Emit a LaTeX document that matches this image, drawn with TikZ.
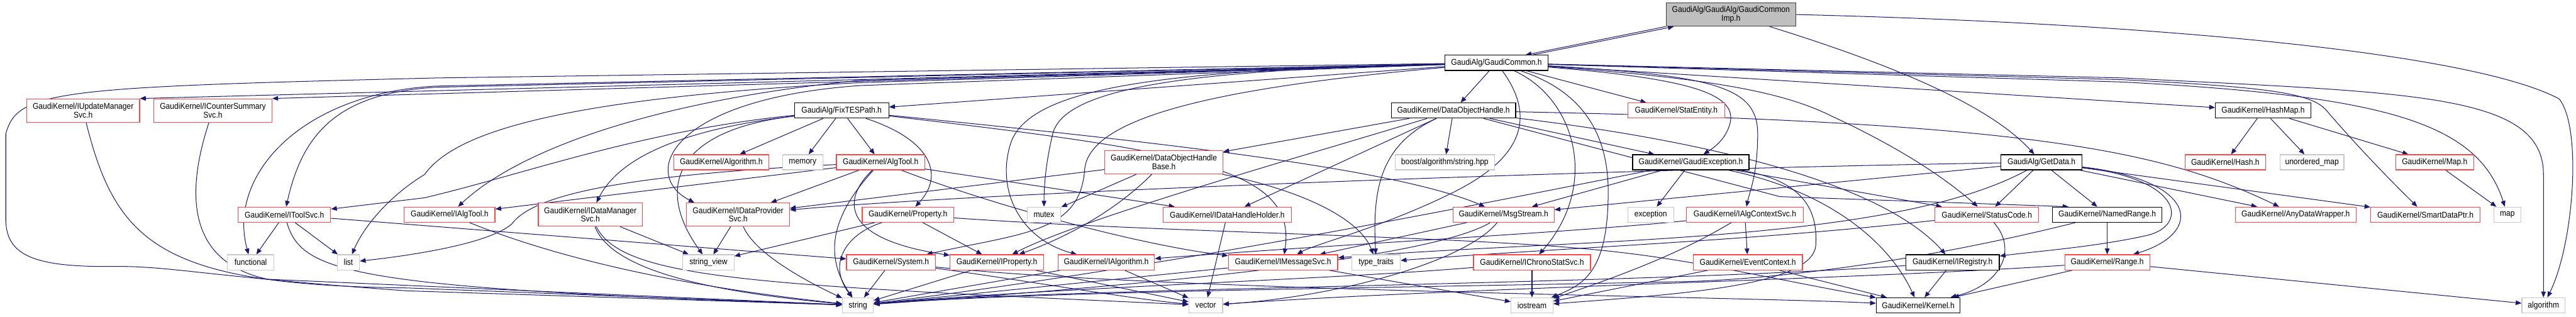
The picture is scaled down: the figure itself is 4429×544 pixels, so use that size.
\documentclass[tikz,border=0pt]{standalone}
\usepackage{fontspec}
\setmainfont{Liberation Sans}[FakeStretch=0.9]
\usetikzlibrary{arrows.meta}
\definecolor{edgec}{RGB}{25,25,112}
\definecolor{redb}{RGB}{255,70,70}
\definecolor{grayb}{RGB}{200,200,200}
\definecolor{impf}{RGB}{191,191,191}
\pgfdeclarelayer{bg}
\pgfsetlayers{bg,main}
\begin{document}
\begin{tikzpicture}[x=1pt,y=-1pt,
  nd/.style={draw, fill=white, line width=1.3pt, inner sep=0pt, align=center, font=\fontsize{14.5}{15}\selectfont, minimum height=26pt},
  rb/.style={nd, draw=redb},
  bb/.style={nd, draw=black},
  gb/.style={nd, draw=grayb},
  ib/.style={nd, draw=black!75, fill=impf, minimum height=40pt},
  tall/.style={minimum height=40pt},
  e/.style={draw=edgec, line width=1.1pt, -{Triangle[length=10pt,width=8pt]}},
]
\useasboundingbox (0,0) rectangle (4429,544);
% row 0-1
\node[ib,minimum width=223] (imp) at (2976,25) {GaudiAlg/GaudiAlg/GaudiCommon\\Imp.h};
\node[bb,minimum width=177] (gc) at (2573,108) {GaudiAlg/GaudiCommon.h};
% row 2
\node[rb,minimum width=194,tall] (ium) at (143,190) {GaudiKernel/IUpdateManager\\Svc.h};
\node[rb,minimum width=203,tall] (ics) at (366,190) {GaudiKernel/ICounterSummary\\Svc.h};
\node[bb,minimum width=162] (fix) at (1447,190) {GaudiAlg/FixTESPath.h};
\node[bb,minimum width=214] (doh) at (2499,190) {GaudiKernel/DataObjectHandle.h};
\node[rb,minimum width=167] (stat) at (2882,190) {GaudiKernel/StatEntity.h};
\node[bb,minimum width=164] (hmap) at (3891,190) {GaudiKernel/HashMap.h};
% row 3
\node[rb,minimum width=163] (alg) at (1240,279) {GaudiKernel/Algorithm.h};
\node[gb,minimum width=69] (mem) at (1380,279) {memory};
\node[rb,minimum width=152] (algtool) at (1514,279) {GaudiKernel/AlgTool.h};
\node[rb,minimum width=203,tall] (dohb) at (2001,279) {GaudiKernel/DataObjectHandle\\Base.h};
\node[gb,minimum width=171] (boost) at (2484,279) {boost/algorithm/string.hpp};
\node[bb,minimum width=200] (gexc) at (2907,279) {GaudiKernel/GaudiException.h};
\node[bb,minimum width=139] (getd) at (3510,279) {GaudiAlg/GetData.h};
\node[rb,minimum width=138] (hash) at (3826,279) {GaudiKernel/Hash.h};
\node[gb,minimum width=110] (umap) at (3975,279) {unordered\_map};
\node[rb,minimum width=134] (mapk) at (4186,279) {GaudiKernel/Map.h};
% row 4
\node[rb,minimum width=159] (itool) at (489,369) {GaudiKernel/IToolSvc.h};
\node[rb,minimum width=156] (ialgtool) at (773,369) {GaudiKernel/IAlgTool.h};
\node[rb,minimum width=179,tall] (idms) at (1015,369) {GaudiKernel/IDataManager\\Svc.h};
\node[rb,minimum width=177,tall] (idps) at (1269,369) {GaudiKernel/IDataProvider\\Svc.h};
\node[rb,minimum width=157] (prop) at (1561,369) {GaudiKernel/Property.h};
\node[gb,minimum width=58] (mutex) at (1795,369) {mutex};
\node[rb,minimum width=220] (idhh) at (2110,369) {GaudiKernel/IDataHandleHolder.h};
\node[rb,minimum width=174] (msg) at (2585,369) {GaudiKernel/MsgStream.h};
\node[gb,minimum width=79] (exc) at (2838,369) {exception};
\node[rb,minimum width=201] (iacs) at (3000,369) {GaudiKernel/IAlgContextSvc.h};
\node[rb,minimum width=178] (sc) at (3416,369) {GaudiKernel/StatusCode.h};
\node[bb,minimum width=188] (nr) at (3623,369) {GaudiKernel/NamedRange.h};
\node[rb,minimum width=208] (adw) at (3947,369) {GaudiKernel/AnyDataWrapper.h};
\node[rb,minimum width=188] (sdp) at (4170,369) {GaudiKernel/SmartDataPtr.h};
\node[gb,minimum width=47] (map) at (4311,369) {map};
% row 5
\node[gb,minimum width=80] (func) at (431,451) {functional};
\node[gb,minimum width=38] (list) at (599,451) {list};
\node[gb,minimum width=88] (sv) at (1218,451) {string\_view};
\node[rb,minimum width=153] (sys) at (1532,451) {GaudiKernel/System.h};
\node[rb,minimum width=161] (iprop) at (1714,451) {GaudiKernel/IProperty.h};
\node[rb,minimum width=166] (ialg) at (1902,451) {GaudiKernel/IAlgorithm.h};
\node[rb,minimum width=188] (ims) at (2206,451) {GaudiKernel/IMessageSvc.h};
\node[gb,minimum width=83] (tt) at (2366,451) {type\_traits};
\node[rb,minimum width=201] (icss) at (2634,451) {GaudiKernel/IChronoStatSvc.h};
\node[rb,minimum width=188] (ec) at (3005,451) {GaudiKernel/EventContext.h};
\node[bb,minimum width=161] (ireg) at (3357,451) {GaudiKernel/IRegistry.h};
\node[rb,minimum width=146] (range) at (3623,451) {GaudiKernel/Range.h};
% row 6
\node[gb,minimum width=53] (str) at (1475,525) {string};
\node[gb,minimum width=58] (vec) at (2073,525) {vector};
\node[gb,minimum width=72] (ios) at (2634,525) {iostream};
\node[bb,minimum width=144] (kern) at (3298,525) {GaudiKernel/Kernel.h};
\node[gb,minimum width=74] (algo) at (4373,525) {algorithm};

\begin{pgfonlayer}{bg}
% Imp
\draw[e] (imp.south west) -- ([xshift=50]gc.north);
\draw[e] ([xshift=62]gc.north) -- ([xshift=14]imp.south west);
\draw[e] (imp) .. controls (3250,110) and (3420,180) .. (getd);
\draw[e] (imp.east) .. controls (3700,40) and (4250,90) .. (4400,170) .. controls (4440,220) and (4425,420) .. (algo);
% GaudiCommon left
\draw[e] (gc) -- (ium.north east);
\draw[e] (gc) -- (ics.north east);
\draw[e] (gc) -- (750,150) .. controls (580,160) and (520,230) .. (itool);
\draw[e] (gc) -- (750,148) .. controls (520,160) and (390,300) .. (func);
\draw[e] (gc) -- (1480,142) .. controls (950,170) and (780,230) .. (730,300) .. controls (680,330) and (630,380) .. (list);
\draw[e] (gc) -- (1480,138) .. controls (1150,170) and (900,250) .. (ialgtool);
\draw[e] (gc) -- (1480,147) .. controls (1150,170) and (1100,300) .. ([xshift=14]idps.north west);
\draw[e] (gc) -- (fix);
\draw[e] (gc) .. controls (2100,150) and (1875,200) .. (1865,290) .. controls (1858,400) and (1760,400) .. (sys);
\draw[e] (gc) .. controls (2000,120) and (1780,150) .. (1740,240) .. controls (1710,320) and (1750,410) .. (ialg);
\draw[e] (gc) .. controls (2050,120) and (1830,150) .. (1810,230) .. controls (1798,280) and (1795,320) .. (mutex);
\draw[e] (gc) -- (750,134) .. controls (100,150) and (30,155) .. (10,230) -- (10,380) .. controls (12,440) and (60,460) .. (200,458) .. controls (300,458) and (350,475) .. (700,500) -- (str);
% GaudiCommon bottom / right
\draw[e] (gc) -- (doh);
\draw[e] (gc) .. controls (2640,200) and (2620,270) .. (2500,330) .. controls (2380,390) and (2260,420) .. (ims);
\draw[e] (gc) .. controls (2710,170) and (2750,320) .. (icss);
\draw[e] (gc) .. controls (2730,160) and (2765,240) .. (2765,330) .. controls (2765,470) and (2720,490) .. (ios);
\draw[e] (gc) -- (stat);
\draw[e] (gc) .. controls (2900,135) and (2985,160) .. (2975,210) .. controls (2968,240) and (2945,255) .. (gexc);
\draw[e] (gc) .. controls (2950,130) and (3022,150) .. (3022,230) .. controls (3022,300) and (3008,330) .. (iacs);
\draw[e] (gc) .. controls (2950,135) and (3070,160) .. (3150,200) .. controls (3290,265) and (3360,320) .. (sc);
\draw[e] (gc) -- (hmap);
\draw[e] (gc) -- (3650,137) .. controls (3900,150) and (3975,160) .. (4000,190) .. controls (4060,260) and (4120,320) .. (sdp);
\draw[e] (gc) -- (3650,141) .. controls (4100,165) and (4260,210) .. (map);
\draw[e] (gc) -- (3650,134) .. controls (4150,160) and (4373,160) .. (4373,300) -- (algo);
% FixTESPath
\draw[e] (fix) -- (alg);
\draw[e] (fix) -- (mem);
\draw[e] (fix) -- (algtool);
\draw[e] (fix) .. controls (1600,240) and (1625,300) .. (prop);
\draw[e] (fix) .. controls (1100,225) and (900,300) .. (730,340) -- (itool);
\draw[e] (fix) .. controls (1150,225) and (1060,280) .. (idms);
\draw[e] (fix) .. controls (1150,225) and (1130,330) .. (sv);
\draw[e] (fix) .. controls (2000,245) and (2400,290) .. (msg);
\draw[e] (fix) .. controls (2050,260) and (2230,290) .. (ims);
% AlgTool
\draw[e] (algtool) -- (ialgtool);
\draw[e] (algtool) .. controls (1100,300) and (920,330) .. (880,385) .. controls (840,420) and (700,440) .. (list);
\draw[e] (algtool) -- (idps);
\draw[e] (algtool) -- (idhh);
\draw[e] (algtool) .. controls (1700,350) and (1950,420) .. (ims);
\draw[e] (algtool) .. controls (1450,340) and (1440,410) .. (iprop);
\draw[e] (algtool) .. controls (1440,360) and (1410,430) .. (str);
% DataObjectHandle
\draw[e] (doh) -- (dohb);
\draw[e] (doh) .. controls (2200,280) and (1850,380) .. (iprop);
\draw[e] (doh) -- (idhh);
\draw[e] (doh) .. controls (2370,250) and (2360,330) .. (tt);
\draw[e] (doh) -- (boost);
\draw[e] (doh) -- (3060,338) -- ([xshift=28]nr.north west);
\draw[e] (doh) -- (gexc);
\draw[e] (doh) .. controls (3500,210) and (3720,260) .. (adw);
\draw[e] (doh) .. controls (3000,250) and (3250,330) .. (ireg);
% DataObjectHandleBase
\draw[e] (dohb) -- (idps);
\draw[e] (dohb) -- (mutex);
\draw[e] (dohb) .. controls (1900,380) and (1800,420) .. (iprop);
\draw[e] (dohb) .. controls (2250,330) and (2340,380) .. (tt);
% HashMap
\draw[e] (hmap) -- (hash);
\draw[e] (hmap) -- (umap);
\draw[e] (hmap) -- (mapk);
\draw[e] (mapk) -- (map);
% GaudiException
\draw[e] (gexc) -- (exc);
\draw[e] (gexc) -- (msg);
\draw[e] (gexc) -- (sc);
\draw[e] (gexc) .. controls (3150,330) and (3250,420) .. (kern);
\draw[e] (gexc) .. controls (3100,310) and (3125,360) .. (3122,420) .. controls (3120,490) and (2900,505) .. (ios);
\draw[e] (gexc) .. controls (2500,360) and (2000,460) .. (str);
% GetData
\draw[e] (getd) -- (sc);
\draw[e] (getd) -- (nr);
\draw[e] (getd) -- (msg);
\draw[e] (getd) .. controls (2800,290) and (1700,330) .. (idps);
\draw[e] (getd) .. controls (3250,420) and (2700,410) .. (ims);
\draw[e] (getd) -- (adw);
\draw[e] (getd) -- (sdp);
\draw[e] (getd) .. controls (3780,310) and (3790,400) .. (range);
\draw[e] (getd) .. controls (3760,310) and (3760,390) .. (3690,405) .. controls (3600,425) and (3500,432) .. (ireg);
% IToolSvc, IUpdateManagerSvc, ICounterSummarySvc, IAlgTool
\draw[e] (itool) -- (func);
\draw[e] (itool) -- (list);
\draw[e] (itool) .. controls (520,470) and (600,495) .. (str);
\draw[e] (itool) -- (sys);
\draw[e] (ium) .. controls (200,420) and (280,490) .. (700,495) -- (str);
\draw[e] (ics) .. controls (320,330) and (320,450) .. (460,480) -- (str);
\draw[e] (ialgtool) .. controls (950,440) and (1150,490) .. (str);
% IDataManagerSvc, IDataProviderSvc
\draw[e] (idms) -- (sv);
\draw[e] (idms) .. controls (1050,460) and (1200,500) .. (str);
\draw[e] (idms) .. controls (1070,480) and (1300,490) .. (vec);
\draw[e] (idps) -- (sv);
\draw[e] (idps) .. controls (1300,440) and (1400,490) .. (str);
% Property, System, IProperty, IAlgorithm, IDataHandleHolder
\draw[e] (prop) -- (sv);
\draw[e] (prop) .. controls (1460,400) and (1420,450) .. (str);
\draw[e] (prop) -- (iprop);
\draw[e] (prop) .. controls (2000,400) and (2500,405) .. (2750,430) .. controls (2900,445) and (3000,470) .. (kern);
\draw[e] (sys) -- (str);
\draw[e] (sys) .. controls (1750,480) and (1950,515) .. (vec);
\draw[e] (sys) .. controls (2000,500) and (3000,510) .. (kern);
\draw[e] (iprop) -- (str);
\draw[e] (iprop) -- (vec);
\draw[e] (ialg) -- (str);
\draw[e] (ialg) -- (vec);
\draw[e] (idhh) -- (vec);
% IMessageSvc, MsgStream, IChronoStatSvc
\draw[e] (ims) -- (ios);
\draw[e] (ims) -- (str);
\draw[e] (msg) -- (ims);
\draw[e] (msg) .. controls (2450,450) and (1900,495) .. (str);
\draw[e] (msg) .. controls (2520,450) and (2300,510) .. (vec);
\draw[e] (icss) -- (ios);
\draw[e] (icss) .. controls (2300,480) and (1800,495) .. (str);
% IAlgContextSvc, EventContext
\draw[e] (iacs) -- (ec);
\draw[e] (iacs) .. controls (2700,400) and (2300,420) .. (ialg);
\draw[e] (iacs) .. controls (2930,410) and (2860,450) .. (ios);
\draw[e] (ec) -- (ios);
\draw[e] (ec) -- (kern);
% IRegistry, Range, NamedRange, StatusCode
\draw[e] (ireg) -- (kern);
\draw[e] (ireg) .. controls (2800,490) and (1800,495) .. (str);
\draw[e] (range) -- (kern);
\draw[e] (range) -- (algo);
\draw[e] (range) .. controls (3200,480) and (2500,495) .. (vec);
\draw[e] (nr) -- (range);
\draw[e] (nr) .. controls (3300,450) and (3050,480) .. (2900,484) .. controls (2400,495) and (1800,500) .. (str);
\draw[e] (sc) .. controls (3470,430) and (3440,490) .. (kern);
\draw[e] (sc) .. controls (3000,415) and (2700,425) .. (tt);
\end{pgfonlayer}
\end{tikzpicture}
\end{document}
